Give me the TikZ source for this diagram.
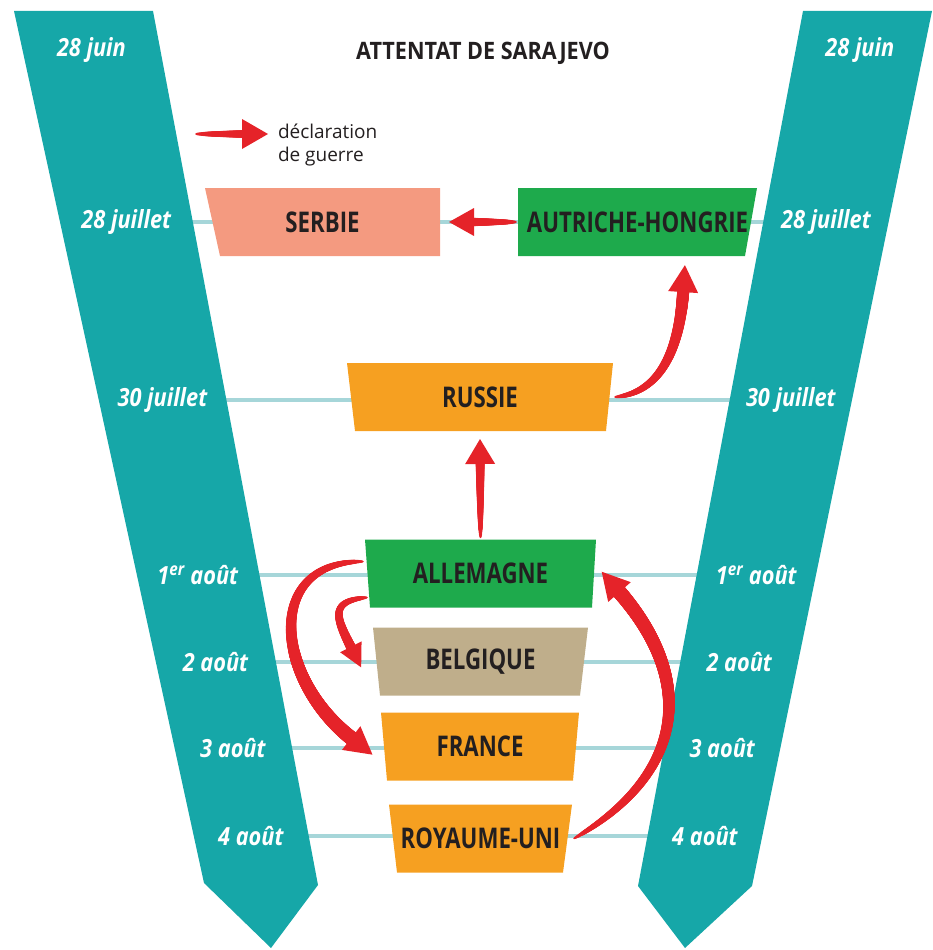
\documentclass[tikz,border=0pt]{standalone}
\usepackage{fontspec}
\setmainfont{Open Sans}
\newfontfamily\boxfont[FakeStretch=0.78]{Open Sans}
\newfontfamily\datefont[FakeStretch=0.87]{Open Sans}
\newfontfamily\titlefont[FakeStretch=0.9]{Open Sans}
\usepackage{tikz}
\usetikzlibrary{decorations.markings}
\definecolor{bande}{HTML}{16A7A8}
\definecolor{fil}{HTML}{A6D6D9}
\definecolor{rouge}{HTML}{E52329}
\definecolor{vert}{HTML}{1EAA4C}
\definecolor{orange1}{HTML}{F6A021}
\definecolor{saumon}{HTML}{F49A80}
\definecolor{kaki}{HTML}{BFAE8B}
\definecolor{noir}{HTML}{231F20}

\begin{document}
\begin{tikzpicture}[x=1pt, y=-1pt, line width=4pt,
    pays/.style args={#1/#2/#3/#4}{minimum width=#2, minimum height=68, inner sep=0pt, text=noir,
        font=\boxfont\fontsize{28.5}{30}\selectfont\bfseries,
        path picture={\fill[#1] (path picture bounding box.north west) -- (path picture bounding box.north east)
            -- ([xshift=-#4]path picture bounding box.south east) -- ([xshift=#3]path picture bounding box.south west) -- cycle;}},
    date/.style = {text=white, font=\datefont\fontsize{25}{27}\selectfont\bfseries\itshape},
    guerre/.style args={#1/#2/#3}{decorate, decoration={markings,
        mark=between positions 0 and -#2pt step 0.5pt with {\pgfmathsetmacro\rayon{0.6+(#1-0.6)*(\pgfkeysvalueof{/pgf/decoration/mark info/distance from start}/\pgfdecoratedpathlength)^0.45}\fill[rouge] (0pt,0pt) circle (\rayon pt);},
        mark=at position -#2pt with {\fill[rouge] (-1pt,#3pt) -- (#2pt,0pt) -- (-1pt,-#3pt) -- cycle;}}}]
    \useasboundingbox (0,0) rectangle (932,950);
    % centres des bandes
    \coordinate (c0) at (91.4,50);   \coordinate (e0) at (859.8,50);
    \coordinate (c1) at (126.3,222); \coordinate (e1) at (825.9,222);
    \coordinate (c2) at (162.4,400); \coordinate (e2) at (790.8,400);
    \coordinate (c3) at (197.8,575); \coordinate (e3) at (756.3,575);
    \coordinate (c4) at (215.5,662); \coordinate (e4) at (739.2,662);
    \coordinate (c5) at (232.9,748); \coordinate (e5) at (722.2,748);
    \coordinate (c6) at (250.8,836); \coordinate (e6) at (704.9,836);
    % lignes des dates
    \draw[fil] (c1) -- (e1);
    \draw[fil] (c2) -- (e2);
    \draw[fil] (c3) -- (e3);
    \draw[fil] (c4) -- (e4);
    \draw[fil] (c5) -- (e5);
    \draw[fil] (c6) -- (e6);
    % bandes
    \fill[bande] (14,11) -- (153,11) -- (318,885) -- (271,948) -- (204,883) -- cycle;
    \fill[bande] (803,11) -- (932,11) -- (752,886) -- (685,948) -- (638,886) -- cycle;
    \node[date] (g0) at (c0) {28 juin};
    \node[date] (g1) at (c1) {28 juillet};
    \node[date] (g2) at (c2) {30 juillet};
    \node[date] (g3) at (c3) {1\textsuperscript{er} août};
    \node[date] (g4) at (c4) {2 août};
    \node[date] (g5) at (c5) {3 août};
    \node[date] (g6) at (c6) {4 août};
    \node[date] (d0) at (e0) {28 juin};
    \node[date] (d1) at (e1) {28 juillet};
    \node[date] (d2) at (e2) {30 juillet};
    \node[date] (d3) at (e3) {1\textsuperscript{er} août};
    \node[date] (d4) at (e4) {2 août};
    \node[date] (d5) at (e5) {3 août};
    \node[date] (d6) at (e6) {4 août};
    \node[text=noir, font=\titlefont\fontsize{24}{26}\selectfont\bfseries] (titre) at (483,53) {ATTENTAT DE SARAJEVO};
    % pays
    \node[pays={saumon/235/15/0}] (srb) at (322.5,222) {SERBIE};
    \node[pays={vert/239/0/12}] (ah) at (637.5,222) {AUTRICHE-HONGRIE};
    \node[pays={orange1/266/8/7}] (rus) at (480,397) {RUSSIE};
    \node[pays={vert/231/5/4}] (all) at (480.5,573.5) {ALLEMAGNE};
    \node[pays={kaki/215/7/8}] (bel) at (480.5,661.5) {BELGIQUE};
    \node[pays={orange1/198/6/6}] (fra) at (480,746.5) {FRANCE};
    \node[pays={orange1/183/8/9}] (ru) at (480.5,838.5) {ROYAUME-UNI};
    % legende
    \coordinate (lg0) at (196,134);
    \coordinate (lg1) at (268,134);
    \node[anchor=north west, align=left, text=noir, inner sep=0pt, font=\fontsize{19}{23}\selectfont] (leg) at (276,122) {déclaration\\de guerre};
    \path[guerre=4.5/25/15] (lg0) -- (lg1);
    % declarations
    \path[guerre=5/24/14] (ah.west) -- ([xshift=7pt]srb.east);
    \path[guerre=6.5/26/15] (rus.east) to[out=5, in=-90] ([xshift=46.5pt,yshift=-8pt]ah.south);
    \path[guerre=5/24/15] (all.north) -- ([yshift=-6pt]rus.south);
    \path[guerre=5.5/22/12] ([xshift=4pt,yshift=12pt]all.south west) to[out=185, in=115, looseness=1.7] ([xshift=-10pt,yshift=-6pt]bel.west);
    \path[guerre=7.5/26/15] ([yshift=12pt]all.west) to[out=180, in=150, looseness=1.45] ([xshift=-8pt,yshift=-5pt]fra.west);
    \path[guerre=7.5/26/15] (ru.east) to[out=30, in=-45, looseness=1.3] ([xshift=6pt,yshift=-2pt]all.east);
\end{tikzpicture}
\end{document}
